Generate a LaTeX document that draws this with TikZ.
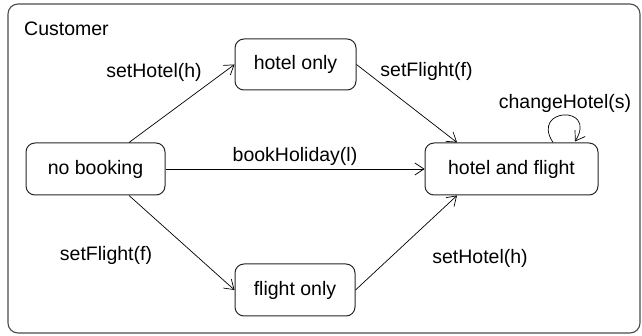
\documentclass[tikz,border=0pt]{standalone}
\usepackage{fontspec}
\setmainfont{Liberation Sans}
\usetikzlibrary{arrows.meta,calc}
\begin{document}
\begin{tikzpicture}[x=1pt,y=-1pt,
  every node/.style={font=\fontsize{19.5}{23}\selectfont},
  state/.style={draw=black!85,line width=1pt,rounded corners=9pt,minimum height=52pt,inner sep=0pt},
  trans/.style={draw=black,line width=0.7pt,-{Straight Barb[length=9pt,width=12pt,line width=0.7pt]}},
  lbl/.style={inner sep=0pt,anchor=center}]
\useasboundingbox (0,0) rectangle (642,336);
\node[draw=black!70,line width=1.1pt,rounded corners=10pt,minimum width=632pt,minimum height=329pt,inner sep=0pt] (cust) at (324,168.5) {};
\node[lbl,anchor=west] (custlbl) at (24,29) {Customer};
\node[state,minimum width=139pt] (nb) at (95.5,169) {no booking};
\node[state,minimum width=121pt,minimum height=51pt] (ho) at (295.5,64.5) {hotel only};
\node[state,minimum width=120pt] (fo) at (295,290) {flight only};
\node[state,minimum width=173pt] (hf) at (511.5,169) {hotel and flight};
\draw[trans] ($(nb.north)+(33.5,0)$) -- (ho.west);
\draw[trans] (ho.east) -- ($(hf.north)+(-54.5,0)$);
\draw[trans] (nb.east) -- (hf.west);
\draw[trans] ($(nb.south)+(33.5,0)$) -- (fo.west);
\draw[trans] (fo.east) -- ($(hf.south)+(-54.5,0)$);
\draw[trans] ($(hf.north)+(41.5,0)$) .. controls ($(hf.north)+(18.5,-35)$) and ($(hf.north)+(86.5,-38)$) .. ($(hf.north)+(63.5,-1)$);
\node[lbl] (l1) at (154,72) {setHotel(h)};
\node[lbl] (l2) at (426.5,71) {setFlight(f)};
\node[lbl] (l3) at (565,103) {changeHotel(s)};
\node[lbl] (l4) at (295,156) {bookHoliday(l)};
\node[lbl] (l5) at (106,255) {setFlight(f)};
\node[lbl] (l6) at (480,258) {setHotel(h)};
\end{tikzpicture}
\end{document}
